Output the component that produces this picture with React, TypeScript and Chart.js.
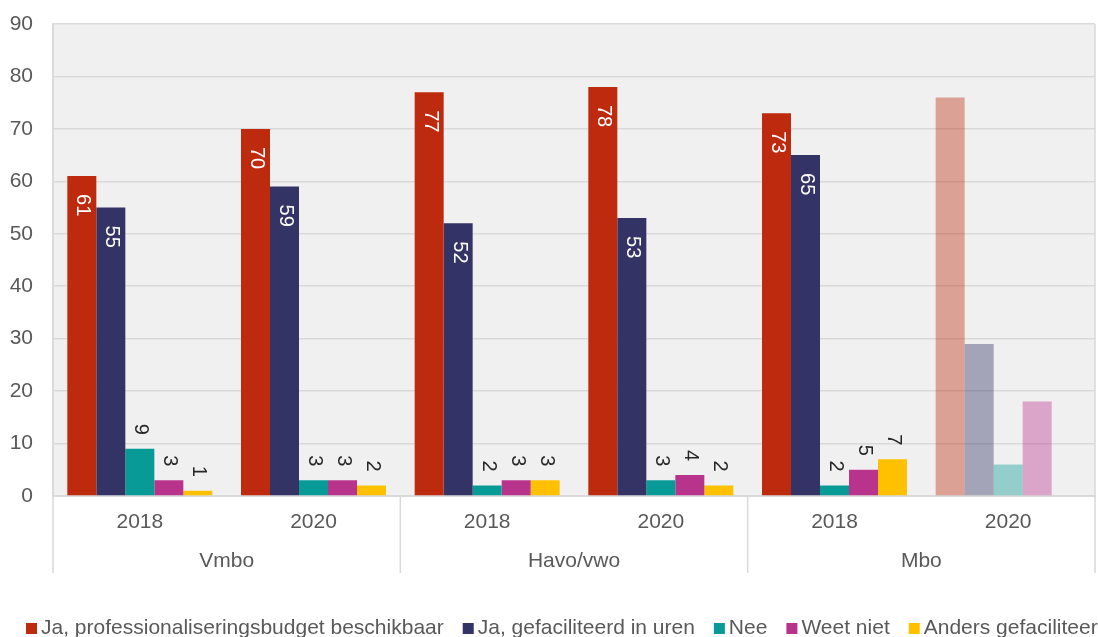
import React, { useEffect, useRef } from 'react';
import { Chart, registerables } from 'chart.js';

Chart.register(...registerables);

// ---- data ----
const categories = ['2018', '2020', '2018', '2020', '2018', '2020'];
const groups = ['Vmbo', 'Havo/vwo', 'Mbo'];
const seriesNames = [
  'Ja, professionaliseringsbudget beschikbaar',
  'Ja, gefaciliteerd in uren',
  'Nee',
  'Weet niet',
  'Anders gefaciliteerd',
];
const professionaliseringsbudget = [61, 70, 77, 78, 73, 76];
const gefaciliteerdInUren = [55, 59, 52, 53, 65, 29];
const nee = [9, 3, 2, 3, 2, 6];
const weetNiet = [3, 3, 3, 4, 5, 18];
const andersGefaciliteerd: (number | null)[] = [1, 2, 3, 2, 7, null];
const seriesColors = ['#BE2A0D', '#333366', '#079A96', '#B8348C', '#FFC000'];
const fadedIndex = 5; // Mbo 2020 shown faded, without labels
const yMin = 0;
const yMax = 90;
const yStep = 10;

const FONT = "'Liberation Sans', Arial, sans-serif";
const TEXT_GRAY = '#595959';
const LINE_GRAY = '#d9d9d9';

function fade(hex: string, a: number) {
  const r = parseInt(hex.slice(1, 3), 16);
  const g = parseInt(hex.slice(3, 5), 16);
  const b = parseInt(hex.slice(5, 7), 16);
  return `rgba(${r},${g},${b},${a})`;
}

const bgPlugin = {
  id: 'plotBg',
  beforeDraw(chart: any) {
    const { ctx, chartArea: a } = chart;
    ctx.save();
    ctx.fillStyle = '#f0f0f0';
    ctx.fillRect(a.left, a.top, a.right - a.left, a.bottom - a.top);
    ctx.restore();
  },
};

const groupPlugin = {
  id: 'groups',
  afterDraw(chart: any) {
    const { ctx, chartArea: a } = chart;
    const xs = chart.scales.x;
    const px = (i: number) => xs.getPixelForValue(i);
    const half = (px(1) - px(0)) / 2;
    const bottom = a.bottom + 77;
    ctx.save();
    ctx.strokeStyle = LINE_GRAY;
    ctx.lineWidth = 1.5;
    for (let g = 0; g < groups.length; g++) {
      const b = px(2 * g) - half;
      ctx.beginPath();
      ctx.moveTo(b, g === 0 ? a.top : a.bottom);
      ctx.lineTo(b, bottom);
      ctx.stroke();
    }
    const rb = px(categories.length - 1) + half;
    ctx.beginPath();
    ctx.moveTo(rb, a.top);
    ctx.lineTo(rb, bottom);
    ctx.stroke();

    ctx.fillStyle = TEXT_GRAY;
    ctx.font = `21px ${FONT}`;
    ctx.textAlign = 'center';
    ctx.textBaseline = 'alphabetic';
    for (let g = 0; g < groups.length; g++) {
      const cx = (px(2 * g) + px(2 * g + 1)) / 2;
      ctx.fillText(groups[g], cx, a.bottom + 71);
    }
    ctx.restore();
  },
};

const labelPlugin = {
  id: 'barLabels',
  afterDatasetsDraw(chart: any) {
    const { ctx } = chart;
    ctx.save();
    ctx.font = `20px ${FONT}`;
    ctx.textBaseline = 'middle';
    chart.data.datasets.forEach((ds: any, di: number) => {
      const meta = chart.getDatasetMeta(di);
      meta.data.forEach((el: any, i: number) => {
        const v = ds.data[i];
        if (v === null || v === undefined || i === fadedIndex) return;
        const inside = di < 2;
        ctx.save();
        if (inside) {
          ctx.translate(el.x + 1, el.y + 18);
          ctx.rotate(Math.PI / 2);
          ctx.textAlign = 'left';
          ctx.fillStyle = '#ffffff';
        } else {
          ctx.translate(el.x + 1, el.y - 14);
          ctx.rotate(Math.PI / 2);
          ctx.textAlign = 'right';
          ctx.fillStyle = '#262626';
        }
        ctx.fillText(String(v), 0, 0);
        ctx.restore();
      });
    });
    ctx.restore();
  },
};

const legendPlugin = {
  id: 'customLegend',
  afterDraw(chart: any) {
    const { ctx } = chart;
    ctx.save();
    ctx.font = `21px ${FONT}`;
    ctx.textBaseline = 'alphabetic';
    ctx.textAlign = 'left';
    let x = 26;
    const baseline = 634;
    seriesNames.forEach((name, i) => {
      ctx.fillStyle = seriesColors[i];
      ctx.fillRect(x, 623, 11, 11);
      ctx.fillStyle = TEXT_GRAY;
      ctx.fillText(name, x + 15, baseline);
      x += 15 + ctx.measureText(name).width + 19;
    });
    ctx.restore();
  },
};

export default function App() {
  const ref = useRef<HTMLCanvasElement>(null);
  useEffect(() => {
    if (!ref.current) return;
    const seriesData = [
      professionaliseringsbudget,
      gefaciliteerdInUren,
      nee,
      weetNiet,
      andersGefaciliteerd,
    ];
    const chart = new Chart(ref.current, {
      type: 'bar',
      data: {
        labels: categories,
        datasets: seriesData.map((d, i) => ({
          label: seriesNames[i],
          data: d,
          backgroundColor: (c: any) =>
            c.dataIndex === fadedIndex ? fade(seriesColors[i], 0.4) : seriesColors[i],
          barPercentage: 1,
          categoryPercentage: 0.835,
          borderWidth: 0,
        })),
      },
      options: {
        animation: false,
        responsive: false,
        maintainAspectRatio: false,
        layout: { padding: { top: 24, right: 3, left: 0, bottom: 0 } },
        plugins: {
          legend: { display: false },
          tooltip: { enabled: false },
        },
        scales: {
          x: {
            grid: { display: false },
            border: { display: true, color: LINE_GRAY, width: 2 },
            ticks: {
              font: { family: FONT, size: 21 },
              color: TEXT_GRAY,
              padding: 6,
              maxRotation: 0,
            },
            afterFit: (s: any) => {
              s.height = 141;
            },
          },
          y: {
            min: yMin,
            max: yMax,
            grid: { color: LINE_GRAY, lineWidth: 1.5, drawTicks: false },
            border: { display: true, color: LINE_GRAY, width: 1.5 },
            ticks: {
              stepSize: yStep,
              font: { family: FONT, size: 21 },
              color: TEXT_GRAY,
              padding: 20,
            },
            afterFit: (s: any) => {
              s.width = 53;
              s.paddingTop = 8;
              s.paddingBottom = 8;
            },
          },
        },
      },
      plugins: [bgPlugin, labelPlugin, groupPlugin, legendPlugin],
    });
    return () => chart.destroy();
  }, []);
  return (
    <div
      style={{
        position: 'fixed',
        left: 0,
        top: 0,
        width: 1098,
        height: 637,
        background: '#ffffff',
        overflow: 'hidden',
      }}
    >
      <canvas ref={ref} width={1098} height={637} />
    </div>
  );
}
